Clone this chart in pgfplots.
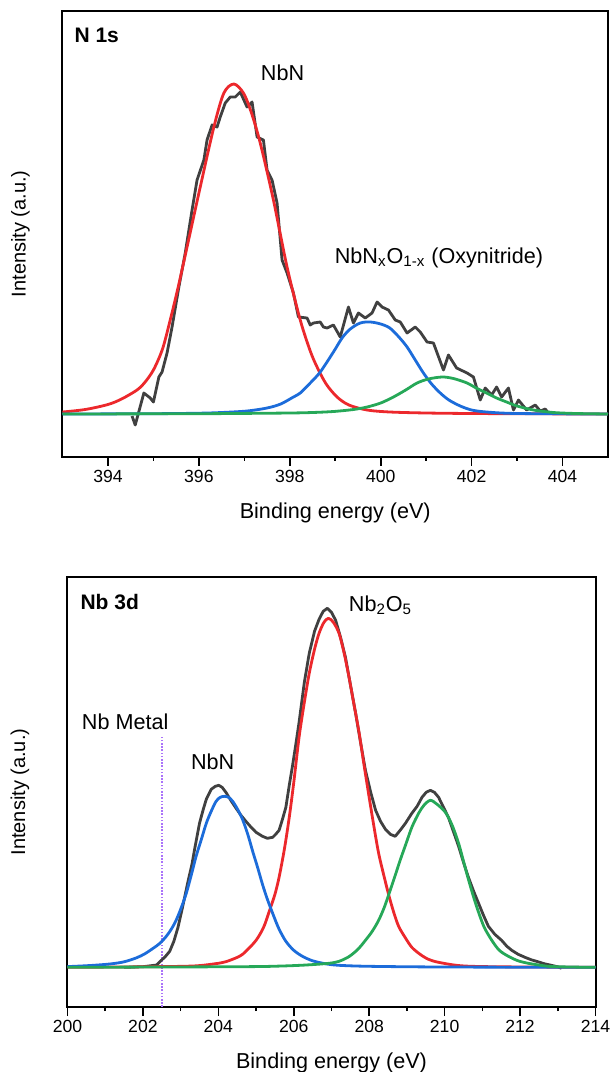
\documentclass[border=0pt]{standalone}
\usepackage{pgfplots}
\pgfplotsset{compat=1.18}
\usepackage{fontspec}
\setmainfont{Liberation Sans}

\definecolor{dat}{RGB}{64,64,64}
\definecolor{fitred}{RGB}{236,40,44}
\definecolor{fitblue}{RGB}{28,108,218}
\definecolor{fitgreen}{RGB}{38,168,88}
\definecolor{metal}{RGB}{170,115,250}

\pgfplotsset{
  xps/.style={
    scale only axis,
    axis line style={line width=1pt},
    ytick=\empty,
    xtick pos=bottom,
    tick align=outside,
    major tick length=4.5pt,
    minor tick length=2pt,
    minor x tick num=1,
    every tick/.style={black, line width=0.8pt},
    tick label style={font=\fontsize{8.8}{10}\selectfont},
    xticklabel style={inner sep=2pt},
    label style={font=\fontsize{10.8}{13}\selectfont},
    xlabel style={yshift=-4.5pt},
    /pgf/number format/assume math mode=true,
    xlabel={Binding energy (eV)},
    ylabel={Intensity (a.u.)},
    every axis plot/.append style={line width=1.4pt, line join=round},
  },
  fit/.style={smooth, tension=0.5},
}

\begin{document}
\begin{tikzpicture}
\path[use as bounding box] (-31.25pt,5.5pt) rectangle (274.25pt,-530.5pt);

% N 1s
\begin{axis}[xps,
    at={(0,0)}, anchor=north west,
    width=272.75pt, height=222.85pt,
    xmin=393, xmax=405, ymin=-42.7, ymax=403,
    xtick={394,396,...,404},
    every axis y label/.style={at={([xshift=-21pt]axis description cs:0,0.5)}, rotate=90, anchor=center},
  ]
\addplot[dat] coordinates {
  (394.53,-2) (394.60,-11) (394.79,21) (394.93,16) (395.00,12) (395.12,37)
  (395.19,42) (395.30,61) (395.41,87) (395.56,127) (395.70,161) (395.85,204)
  (395.96,234) (396.11,254) (396.18,274) (396.29,289) (396.40,287) (396.47,297)
  (396.58,311) (396.69,317) (396.80,317) (396.91,322) (397.06,307) (397.17,312)
  (397.28,277) (397.42,274) (397.50,244) (397.61,234) (397.72,211) (397.83,154)
  (397.94,141) (398.08,121) (398.19,97) (398.38,96) (398.45,89) (398.52,91)
  (398.67,92) (398.74,87) (398.82,86) (398.96,89) (399.11,77) (399.29,107)
  (399.40,91) (399.51,101) (399.66,96) (399.81,101) (399.92,112) (400.03,107)
  (400.17,104) (400.32,94) (400.43,92) (400.58,81) (400.76,87) (400.87,82)
  (401.02,72) (401.16,71) (401.38,44) (401.49,59) (401.67,46) (401.90,41)
  (402.04,37) (402.19,14) (402.30,26) (402.44,19) (402.55,27) (402.66,17)
  (402.81,26) (402.92,4) (403.03,14) (403.21,4) (403.40,9) (403.51,3)
  (403.62,5) (403.69,1)};
\addplot[fitred, fit] coordinates {
  (393.0,2) (393.5,4.5) (394.0,9.5) (394.3,15) (394.64,24)
  (394.8,31) (395.0,44) (395.2,65) (395.37,94) (395.55,128) (395.74,167)
  (396.03,227) (396.33,287) (396.55,321) (396.77,330) (396.98,321) (397.15,302)
  (397.35,271) (397.64,214) (397.94,147) (398.23,94) (398.45,63) (398.6,47)
  (398.8,30) (399.04,17) (399.3,9) (399.7,4) (400.2,2) (401,1) (402,0.5)
  (403.5,0.2) (405,0)};
\addplot[fitblue, fit] coordinates {
  (393,0) (395,0.3) (396,0.8) (396.5,1.5) (397.06,3) (397.5,6) (397.8,10)
  (398.08,17) (398.23,21) (398.45,31) (398.67,42) (398.96,62) (399.15,76)
  (399.33,85) (399.55,91) (399.77,92) (400.0,90) (400.2,86) (400.4,77)
  (400.58,67) (400.76,54) (400.94,41) (401.12,30) (401.31,21) (401.5,14)
  (401.75,8) (402.0,4) (402.33,2) (403,0.5) (405,0)};
\addplot[fitgreen, fit] coordinates {
  (393,0) (396,0.3) (397,0.6) (398,1) (398.5,1.5) (398.96,2.5) (399.4,4.5)
  (399.7,7) (400.0,11) (400.28,17) (400.55,24) (400.8,31) (401.05,35)
  (401.35,37) (401.6,35.5) (401.9,31) (402.1,26) (402.33,21) (402.55,16)
  (402.77,12) (403.0,8) (403.36,4) (403.8,1.5) (404.3,0.5) (405,0)};
\node[font=\fontsize{10.5}{13}\selectfont\bfseries, anchor=west]
  at ([xshift=2.5pt,yshift=-12pt]rel axis cs:0,1) {N 1s};
\node[font=\fontsize{10.8}{13}\selectfont] at (axis cs:397.84,341) {NbN};
\node[font=\fontsize{10.8}{13}\selectfont] at (axis cs:401.28,156)
  {NbN\textsubscript{x}O\textsubscript{1-x} (Oxynitride)};
\end{axis}

% Nb 3d
\begin{axis}[xps,
    at={(2.5pt,-283pt)}, anchor=north west,
    width=264pt, height=215pt,
    xmin=200, xmax=214, ymin=-39.7, ymax=390.3,
    xtick={200,202,...,214},
    every axis y label/.style={at={([xshift=-23.75pt]axis description cs:0,0.5)}, rotate=90, anchor=center},
  ]
\addplot[metal, line width=0.8pt, dash pattern=on 0.8pt off 0.8pt] coordinates {(202.5,-39.7) (202.5,232)};
\addplot[dat] coordinates {
  (201.5,0) (202.0,0.6) (202.36,2.3) (202.49,7) (202.6,11) (202.71,16)
  (202.82,26) (202.93,40) (203.05,60) (203.19,85) (203.3,103) (203.37,118)
  (203.5,144) (203.6,158) (203.68,168) (203.81,178) (203.92,181) (204.01,182)
  (204.1,180) (204.2,175) (204.33,167) (204.47,159) (204.6,152) (204.73,146)
  (204.87,140) (205.0,135) (205.17,131) (205.30,129) (205.44,130) (205.52,133)
  (205.61,137) (205.7,148) (205.79,160) (205.88,182) (205.96,200) (206.05,222)
  (206.14,245) (206.28,285) (206.41,314) (206.55,336) (206.67,348) (206.78,356)
  (206.89,359) (207.0,355) (207.11,347) (207.24,330) (207.37,310) (207.5,283)
  (207.64,254) (207.77,225) (207.9,197) (208.04,175) (208.17,157) (208.3,146)
  (208.43,138) (208.56,133) (208.69,131) (208.82,137) (208.96,144) (209.13,154)
  (209.27,161) (209.4,170) (209.51,175) (209.62,177) (209.73,175) (209.84,170)
  (209.97,160) (210.1,150) (210.24,135) (210.37,121) (210.5,105) (210.63,90)
  (210.77,76) (210.9,64) (211.03,52) (211.16,41) (211.33,33) (211.51,27)
  (211.65,21) (211.78,17) (211.95,13) (212.13,10) (212.3,7.5) (212.48,5.5)
  (212.65,3.5) (212.83,2) (213.0,0.5) (213.1,-1)};
\addplot[fitred, fit] coordinates {
  (200,0) (202,0.5) (203.32,1.3) (203.9,3.5) (204.2,5.6) (204.56,11) (204.73,16) (205.0,27)
  (205.2,40) (205.35,56) (205.5,73) (205.61,90) (205.75,118) (205.88,150)
  (206.0,185) (206.14,230) (206.28,265) (206.41,294) (206.55,318) (206.67,334)
  (206.8,345) (206.92,349) (207.05,345) (207.2,334) (207.33,315) (207.46,291)
  (207.6,262) (207.73,235) (207.86,203) (207.99,172) (208.12,142) (208.25,114)
  (208.4,90) (208.52,72) (208.65,55) (208.78,41) (208.95,30) (209.13,20)
  (209.35,13) (209.57,8) (209.84,5) (210.45,1.5) (211.5,0.5) (214,0)};
\addplot[fitblue, fit] coordinates {
  (200,0.7) (200.6,1.8) (201.12,3.3) (201.5,5.5) (201.83,9.5) (202.05,13.5) (202.27,19)
  (202.45,24) (202.62,31) (202.75,38) (202.88,47) (203.02,60) (203.15,74)
  (203.28,92) (203.41,111) (203.55,128) (203.68,144) (203.81,156) (203.94,166)
  (204.05,170) (204.16,171) (204.27,170) (204.38,166) (204.51,158) (204.64,148)
  (204.78,133) (204.91,116) (205.04,100) (205.17,83) (205.3,68) (205.44,54)
  (205.6,39) (205.79,26) (206.0,17) (206.23,11) (206.5,6.5) (206.85,3.5)
  (207.2,2) (208,1) (210,0.3) (214,0)};
\addplot[fitgreen, fit] coordinates {
  (200,0) (204.56,0.6) (205.6,1.2) (206.32,2.3) (206.93,4) (207.2,6) (207.46,10.6)
  (207.7,18) (207.9,27) (208.08,36) (208.25,47) (208.4,60) (208.52,73)
  (208.69,92) (208.82,107) (208.97,123) (209.13,140) (209.31,154) (209.45,162)
  (209.62,167) (209.8,163) (210.02,155) (210.2,142) (210.37,124) (210.5,106)
  (210.63,88) (210.77,70) (210.9,55) (211.05,40) (211.25,27) (211.45,17)
  (211.69,11) (211.95,6.5) (212.22,4) (212.55,2) (212.83,0.8) (213.5,0.2)
  (214,0)};
\node[font=\fontsize{10.5}{13}\selectfont\bfseries, anchor=west]
  at ([xshift=3pt,yshift=-12.3pt]rel axis cs:0,1) {Nb 3d};
\node[font=\fontsize{10.8}{13}\selectfont] at (axis cs:201.53,246) {Nb Metal};
\node[font=\fontsize{10.8}{13}\selectfont] at (axis cs:203.85,206) {NbN};
\node[font=\fontsize{10.8}{13}\selectfont] at (axis cs:208.3,362)
  {Nb\textsubscript{2}O\textsubscript{5}};
\end{axis}
\end{tikzpicture}
\end{document}
